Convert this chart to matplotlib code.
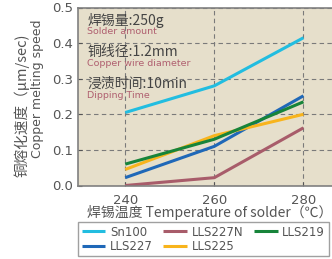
import matplotlib
matplotlib.use("Agg")
import matplotlib.pyplot as plt

plt.rcParams['font.family'] = ['DejaVu Sans', 'Noto Sans CJK SC']

temps = [240, 260, 280]
series_names = ['Sn100', 'LLS227N', 'LLS219', 'LLS227', 'LLS225']
sn100 = [0.205, 0.28, 0.415]
lls227n = [0.0, 0.022, 0.162]
lls219 = [0.06, 0.13, 0.235]
lls227 = [0.022, 0.11, 0.252]
lls225 = [0.045, 0.14, 0.2]
series_values = [sn100, lls227n, lls219, lls227, lls225]
series_colors = ['#22bde0', '#a85c6a', '#17843a', '#1f68b8', '#f8b41c']

y_ticks = [0.0, 0.1, 0.2, 0.3, 0.4, 0.5]

conditions = [('焊锡量:250g', 'Solder amount'),
              ('铜线径:1.2mm', 'Copper wire diameter'),
              ('浸渍时间:10min', 'Dipping Time')]

text_gray = '#555555'
cjk = ['Noto Sans CJK SC', 'DejaVu Sans']

fig = plt.figure(figsize=(3.32, 2.59), dpi=100)
ax = fig.add_axes([78 / 332, (259 - 185.5) / 259, 270 / 332, 178 / 259])
ax.set_facecolor('#e6dfcb')

# legend order so that columns fill as in the reference
order = [0, 3, 1, 4, 2]
for i in order:
    ax.plot(temps, series_values[i], color=series_colors[i], lw=2.2,
            label=series_names[i], solid_capstyle='butt')

ax.set_xlim(229.4, 290)
ax.set_ylim(0, 0.5)
ax.set_xticks(temps)
ax.set_yticks(y_ticks)
ax.set_yticklabels(['%.1f' % v for v in y_ticks])
ax.grid(True, color='#7a7a7a', ls=(0, (4, 3)), lw=0.8)
ax.tick_params(colors=text_gray, labelsize=9.5, length=3, direction='in')
ax.tick_params(axis='x', pad=6)
for s in ax.spines.values():
    s.set_color('#808080')
    s.set_linewidth(1.2)

y0 = 0.97
for cn, en in conditions:
    ax.text(0.035, y0, cn, transform=ax.transAxes, fontsize=10, color='#444444',
            family=cjk, va='top')
    ax.text(0.035, y0 - 0.078, en, transform=ax.transAxes, fontsize=6.8,
            color='#b06070', va='top')
    y0 -= 0.18

fig.text(22 / 332, 1 - 105 / 259, '铜熔化速度（μm/sec)', rotation=90, family=cjk,
         fontsize=10.5, color=text_gray, ha='center', va='center')
fig.text(38 / 332, 1 - 89 / 259, 'Copper melting speed', rotation=90,
         fontsize=9, color=text_gray, ha='center', va='center')
fig.text(210 / 332, 1 - 213 / 259, '焊锡温度 Temperature of solder（℃）', family=cjk,
         fontsize=10, color=text_gray, ha='center', va='center')

leg = fig.legend(loc='upper left', bbox_to_anchor=(78 / 332, 1 - 222 / 259),
                 ncol=3, fontsize=8.5, frameon=True, fancybox=False,
                 handlelength=2.0, columnspacing=0.9, labelspacing=0.1,
                 borderpad=0.3, handletextpad=0.4, borderaxespad=0)
leg.get_frame().set_edgecolor('#888888')
leg.get_frame().set_linewidth(1.0)
for t in leg.get_texts():
    t.set_color(text_gray)

fig.savefig('out.png', dpi=100)
